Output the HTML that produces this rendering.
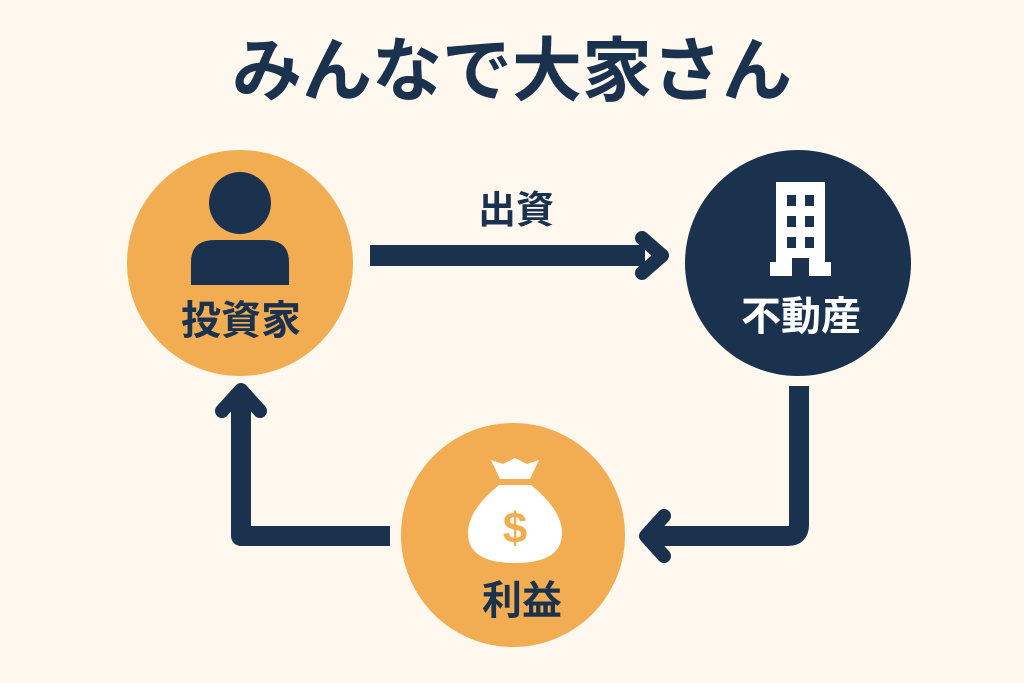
<!DOCTYPE html>
<html><head><meta charset="utf-8"><style>
html,body{margin:0;padding:0;background:#fef8ef;}
svg{display:block}
text{font-family:"Liberation Sans","Noto Sans CJK JP",sans-serif;font-weight:700;}
</style></head><body>
<svg width="1024" height="683" viewBox="0 0 1024 683" xmlns="http://www.w3.org/2000/svg">
<rect width="1024" height="683" fill="#fef8ef"/>
<text x="512" y="95" text-anchor="middle" font-size="70" fill="#1b324f">みんなで大家さん</text>
<circle cx="240" cy="263" r="113" fill="#f2ad52"/>
<circle cx="798" cy="263" r="113" fill="#1b324f"/>
<circle cx="513" cy="535" r="112" fill="#f2ad52"/>
<ellipse cx="240" cy="203" rx="31" ry="31" fill="#1b324f"/>
<path d="M191 285 L191 262 Q191 240 215 240 L265 240 Q289 240 289 262 L289 285 Z" fill="#1b324f"/>
<text x="241" y="334" text-anchor="middle" font-size="40" fill="#1b324f">投資家</text>
<text x="516" y="223" text-anchor="middle" font-size="38" fill="#1b324f">出資</text>
<rect x="370" y="245" width="275" height="21" fill="#1b324f"/>
<polyline points="642,238 662,255.5 642,273" fill="none" stroke="#1b324f" stroke-width="14" stroke-linecap="round" stroke-linejoin="round"/>
<g fill="#fff">
<rect x="776" y="182" width="49" height="80"/>
<rect x="770" y="262" width="61" height="14"/>
</g>
<g fill="#1b324f">
<rect x="787" y="195" width="9" height="11"/><rect x="805" y="195" width="9" height="11"/>
<rect x="787" y="216" width="9" height="11"/><rect x="805" y="216" width="9" height="11"/>
<rect x="787" y="237" width="9" height="11"/><rect x="805" y="237" width="9" height="11"/>
<rect x="792" y="258" width="17" height="18"/>
</g>
<text x="801" y="330" text-anchor="middle" font-size="40" fill="#fff">不動産</text>
<path d="M799 386 L799 525 Q799 536 788 536 L645 536" fill="none" stroke="#1b324f" stroke-width="20"/>
<polyline points="664,516 646,536 664,556" fill="none" stroke="#1b324f" stroke-width="14" stroke-linecap="round" stroke-linejoin="round"/>
<path d="M390 536 L241 536 L241 390" fill="none" stroke="#1b324f" stroke-width="20" stroke-linejoin="round"/>
<polyline points="222,411 241,390 260,411" fill="none" stroke="#1b324f" stroke-width="14" stroke-linecap="round" stroke-linejoin="round"/>
<path d="M491 460 L503 464 L515 458 L527 464 L539 460 L530 479 L500 479 Z" fill="#fff"/>
<path d="M499 485 L531 485 Q562 510 562 533 Q562 563 515 563 Q468 563 468 533 Q468 510 499 485 Z" fill="#fff"/>
<text x="515" y="543" text-anchor="middle" font-size="44" fill="#f2ad52" font-weight="400">$</text>
<text x="522" y="614" text-anchor="middle" font-size="40" fill="#1b324f">利益</text>
</svg>
</body></html>
